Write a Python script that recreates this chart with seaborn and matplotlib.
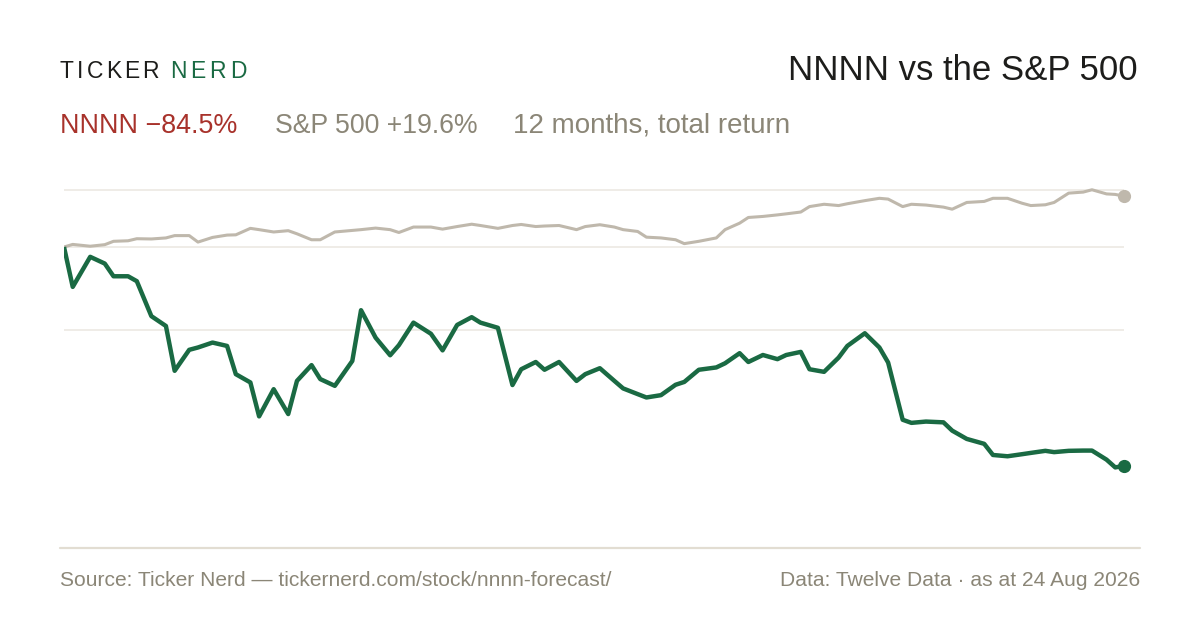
import matplotlib
matplotlib.use("Agg")
import matplotlib.pyplot as plt
from matplotlib.lines import Line2D
import seaborn as sns
import pandas as pd

# Total return (%) every 3rd trading day
nnnn_ret = [0, -15.4, -3.8, -6.4, -11.3, -11.3, -13.2, -26.7, -30.5, -47.8, -39.7, -38.8,
            -36.9, -38.2, -49.1, -52.3, -65.4, -54.9, -64.5, -51.7, -45.6, -51.0, -53.6,
            -44.0, -24.4, -35.0, -41.8, -37.9, -29.2, -33.5, -39.9, -30.1, -27.1, -29.2,
            -31.2, -53.3, -47.2, -44.4, -47.4, -44.4, -51.7, -49.1, -46.8,
            -51.7, -54.6, -56.8, -58.1, -57.2, -53.2, -52.1, -47.4, -46.5, -44.9, -41.0,
            -44.4, -41.7, -43.3, -41.7, -40.5, -47.2, -48.2, -42.7, -38.2, -33.3, -38.8,
            -44.6, -66.7, -67.9, -67.4, -67.7, -70.9, -74.1, -76.0, -80.3, -80.8, -80.0,
            -79.5, -78.7, -79.2, -78.7, -78.6, -78.6, -82.1, -85.1, -84.5]
spx_ret = [0, 1.0, 0.3, 0.9, 2.2, 2.4, 3.2, 3.1, 3.5, 4.4, 4.4, 1.9, 3.7, 4.6, 4.7, 7.2,
           6.7, 5.8, 6.3, 5.1, 2.8, 2.8, 5.8,
           6.4, 6.7, 7.3, 6.7, 5.6, 7.7, 7.7, 6.9, 7.9, 8.8, 8.3, 7.2, 8.3, 8.7, 7.9, 8.1,
           8.3, 6.7, 7.9, 8.6,
           7.7, 6.7, 6.0, 3.8, 3.5, 2.8, 1.3, 2.2, 3.5, 6.7, 9.2, 11.4, 11.8, 12.4, 12.8,
           13.5, 15.6, 16.5, 16.0, 16.7, 17.9, 18.8,
           18.5, 15.6, 16.5, 16.2, 15.4, 14.6, 17.2, 17.6, 18.8, 18.8, 16.9, 16.0, 16.3,
           17.2, 20.8, 21.2, 22.1, 20.5, 20.3, 19.6]
grid_vals = [22, 0, -32]

# NYSE trading days, sampled every 3rd day plus the last one
holidays = ["2025-09-01", "2025-11-27", "2025-12-25", "2026-01-01", "2026-01-19",
            "2026-02-16", "2026-04-03", "2026-05-25", "2026-06-19", "2026-07-03"]
trading = pd.bdate_range("2025-08-25", "2026-08-24", freq="C", holidays=holidays)
dates = trading[::3].append(trading[-1:])

df = pd.DataFrame({"date": dates, "nnnn": nnnn_ret, "spx": spx_ret})

GREEN = "#1a6a43"
BEIGE = "#bfb8ac"
RED = "#a8322b"
GREY = "#8b8677"
DARK = "#1d1d1b"

sns.set_theme(style="white")
plt.rcParams["font.family"] = ["Liberation Sans", "DejaVu Sans"]

W, H = 1200, 630
fig = plt.figure(figsize=(W / 100, H / 100), dpi=100)
fig.patch.set_facecolor("white")

# axes placed so that 0% sits at y=247px, 2.59px per percentage point
zero_px, px_per_pct = 247.0, 2.59
y_hi, y_lo = 30, -100
top_px = zero_px - px_per_pct * y_hi
bot_px = zero_px - px_per_pct * y_lo
ax = fig.add_axes([64 / W, 1 - bot_px / H, 1060 / W, (bot_px - top_px) / H])

sns.lineplot(data=df, x="date", y="spx", ax=ax, color=BEIGE, linewidth=2.2,
             solid_joinstyle="round", solid_capstyle="round", zorder=3)
sns.lineplot(data=df, x="date", y="nnnn", ax=ax, color=GREEN, linewidth=3.2,
             solid_joinstyle="round", solid_capstyle="butt", zorder=4)
ax.scatter(df["date"].iloc[-1], df["spx"].iloc[-1], s=72, color=BEIGE, zorder=5, clip_on=False)
ax.scatter(df["date"].iloc[-1], df["nnnn"].iloc[-1], s=72, color=GREEN, zorder=6, clip_on=False)

ax.set_xlim(df["date"].iloc[0], df["date"].iloc[-1])
ax.set_ylim(y_lo, y_hi)
ax.set_yticks(grid_vals)
ax.set_xticks([])
ax.tick_params(left=False, bottom=False, labelleft=False, labelbottom=False)
ax.yaxis.grid(True, color="#ebe7e0", linewidth=1.1)
ax.set_axisbelow(True)
ax.set_xlabel("")
ax.set_ylabel("")
for sp in ax.spines.values():
    sp.set_visible(False)
ax.patch.set_alpha(0)

# bottom rule
fig.add_artist(Line2D([60 / W, 1140 / W], [1 - 548 / H, 1 - 548 / H],
                      color="#e2ddd2", linewidth=1.6))


def fx(px):
    return px / W


def fy(py):
    return 1 - py / H


# spaced logo
renderer = fig.canvas.get_renderer()


def spaced(x_px, y_px, s, color, size, track):
    x = x_px
    for ch in s:
        t = fig.text(fx(x), fy(y_px), ch, color=color, fontsize=size, va="baseline", ha="left")
        bb = t.get_window_extent(renderer=renderer)
        x += bb.width + track
    return x


spaced(60, 77.5, "TICKER", DARK, 16.5, 3.1)
spaced(170, 77.5, "NERD", GREEN, 16.5, 3.8)

fig.text(fx(1138), fy(80), "NNNN vs the S&P 500", color=DARK, fontsize=25,
         ha="right", va="baseline")

fig.text(fx(60), fy(133), "NNNN \u221284.5%", color=RED, fontsize=19.4, va="baseline")
fig.text(fx(275), fy(133), "S&P 500 +19.6%", color=GREY, fontsize=19.2, va="baseline")
fig.text(fx(513), fy(133), "12 months, total return", color=GREY, fontsize=20.0, va="baseline")

fig.text(fx(60), fy(586), "Source: Ticker Nerd \u2014 tickernerd.com/stock/nnnn-forecast/",
         color=GREY, fontsize=15.1, va="baseline")
fig.text(fx(1140), fy(586), "Data: Twelve Data \u00b7 as at 24 Aug 2026",
         color=GREY, fontsize=15.1, va="baseline", ha="right")

fig.savefig("out.png", dpi=100, facecolor="white")
